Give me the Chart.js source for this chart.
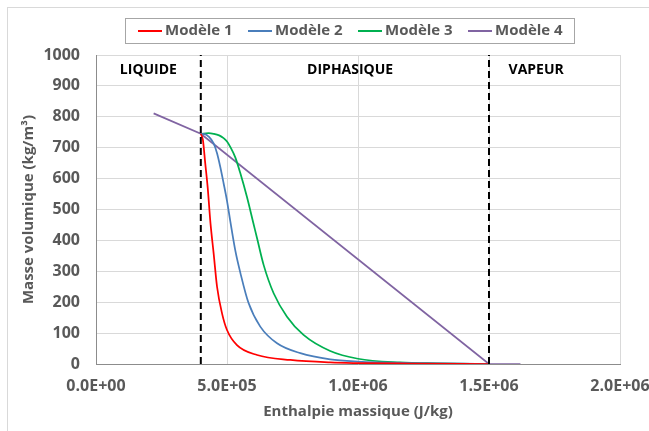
<!DOCTYPE html>
<html>
<head>
<meta charset="utf-8">
<script src="https://cdn.jsdelivr.net/npm/chart.js@4/dist/chart.umd.min.js"></script>
<style>
  html, body { margin: 0; padding: 0; background: #fff; }
  #wrap { width: 649px; height: 431px; position: relative; }
</style>
</head>
<body>
<div id="wrap"><canvas id="rhoChart"></canvas></div>
<script>
// Modèle 1 (rouge)
const m1X = [4.0e5, 4.08e5, 4.17e5, 4.26e5, 4.37e5, 4.49e5, 4.62e5, 4.81e5, 5.0e5, 5.38e5, 6.15e5, 7.42e5, 8.94e5, 1.0e6, 1.2e6, 1.5e6];
const m1Y = [745, 725, 649, 574, 455, 358, 250, 164, 110, 61, 29, 13, 5, 3, 1.5, 0];

// Modèle 2 (bleu)
const m2X = [4.0e5, 4.15e5, 4.3e5, 4.49e5, 4.62e5, 4.74e5, 4.87e5, 5.0e5, 5.13e5, 5.32e5, 5.51e5, 5.82e5, 6.27e5, 6.91e5, 7.8e5, 8.94e5, 1.0e6, 1.2e6, 1.5e6];
const m2Y = [745, 744, 736, 714, 682, 639, 585, 528, 460, 366, 295, 198, 121, 67, 35, 15, 8, 3, 0];

// Modèle 3 (vert)
const m3X = [4.0e5, 4.3e5, 4.49e5, 4.7e5, 4.87e5, 5.0e5, 5.13e5, 5.32e5, 5.51e5, 5.76e5, 6.0e5, 6.15e5, 6.4e5, 6.78e5, 7.29e5, 7.92e5, 8.94e5, 1.0e6, 1.16e6, 1.3e6, 1.5e6];
const m3Y = [745, 747, 745, 740, 731, 720, 702, 668, 617, 541, 458, 406, 320, 229, 153, 94, 42, 17, 5, 2, 0];

// Modèle 4 (violet)
const m4X = [2.2e5, 4.0e5, 1.5e6, 1.62e6];
const m4Y = [811, 745, 0, 0];

// limites de phase et zones
const phaseLimits = [4.0e5, 1.5e6];
const zoneNames = ['LIQUIDE', 'DIPHASIQUE', 'VAPEUR'];
const zoneX = [2.0e5, 9.7e5, 1.68e6];
const zoneY = 950;

const xTicks = [0, 5e5, 1e6, 1.5e6, 2e6];

function pts(xs, ys) {
  return xs.map((x, i) => ({ x: x, y: ys[i] }));
}

// format Excel 0.0E+00
function sciLabel(v) {
  if (v === 0) return '0.0E+00';
  const e = Math.floor(Math.log10(Math.abs(v)));
  const m = v / Math.pow(10, e);
  return m.toFixed(1) + 'E+' + String(e).padStart(2, '0');
}

Chart.defaults.font.family = "'Open Sans', 'DejaVu Sans', sans-serif";
Chart.defaults.font.weight = 'bold';
Chart.defaults.color = '#595959';

const datasets = [
  { label: 'Modèle 1', data: pts(m1X, m1Y), borderColor: '#ff0000', order: 1 },
  { label: 'Modèle 2', data: pts(m2X, m2Y), borderColor: '#4a7ebb', order: 2 },
  { label: 'Modèle 3', data: pts(m3X, m3Y), borderColor: '#00b050', order: 3 },
  { label: 'Modèle 4', data: pts(m4X, m4Y), borderColor: '#8064a2', order: 4, tension: 0, cubicInterpolationMode: 'default' }
].map(d => Object.assign({
  borderWidth: 1.75, pointRadius: 0, fill: false, showLine: true,
  cubicInterpolationMode: 'monotone'
}, d));

phaseLimits.forEach(h => {
  datasets.push({
    label: '', data: [{ x: h, y: 0 }, { x: h, y: 1000 }],
    borderColor: '#000', borderWidth: 2, borderDash: [7, 4],
    pointRadius: 0, showLine: true, order: 0, isLimit: true
  });
});

// légende encadrée façon Excel
const boxLegend = {
  id: 'boxLegend',
  afterDraw(chart) {
    const ctx = chart.ctx;
    ctx.save();
    ctx.strokeStyle = '#a6a6a6';
    ctx.lineWidth = 1;
    ctx.strokeRect(125.5, 18.5, 449, 25);
    ctx.font = "bold 15px 'Open Sans', sans-serif";
    ctx.textBaseline = 'middle';
    ctx.fillStyle = '#595959';
    let x = 138;
    chart.data.datasets.filter(d => !d.isLimit).forEach(d => {
      ctx.strokeStyle = d.borderColor;
      ctx.lineWidth = 2;
      ctx.beginPath();
      ctx.moveTo(x, 31);
      ctx.lineTo(x + 24, 31);
      ctx.stroke();
      ctx.fillText(d.label, x + 27, 31);
      x += 110;
    });
    ctx.restore();
  }
};

const zoneText = {
  id: 'zoneText',
  afterDatasetsDraw(chart) {
    const ctx = chart.ctx;
    const sx = chart.scales.x, sy = chart.scales.y;
    ctx.save();
    ctx.font = "bold 14px 'Open Sans', sans-serif";
    ctx.fillStyle = '#000';
    ctx.textAlign = 'center';
    ctx.textBaseline = 'middle';
    zoneNames.forEach((t, i) => ctx.fillText(t, sx.getPixelForValue(zoneX[i]), sy.getPixelForValue(zoneY)));
    ctx.restore();
  }
};

const frame = {
  id: 'frame',
  beforeDraw(chart) {
    const ctx = chart.ctx;
    ctx.save();
    ctx.fillStyle = '#fff';
    ctx.fillRect(0, 0, chart.width, chart.height);
    ctx.strokeStyle = '#d9d9d9';
    ctx.lineWidth = 1;
    ctx.strokeRect(7.5, 7.5, chart.width + 10, chart.height + 10);
    ctx.restore();
  }
};

new Chart(document.getElementById('rhoChart'), {
  type: 'scatter',
  data: { datasets: datasets },
  plugins: [frame, zoneText, boxLegend],
  options: {
    responsive: true,
    maintainAspectRatio: false,
    animation: false,
    layout: { padding: { left: 0, top: 55, right: 29, bottom: 0 } },
    plugins: { legend: { display: false }, tooltip: { enabled: false } },
    scales: {
      x: {
        type: 'linear', min: 0, max: 2e6,
        afterFit: s => { s.height = 67; s.paddingLeft = 0; s.paddingRight = 0; },
        afterBuildTicks: s => { s.ticks = xTicks.map(v => ({ value: v })); },
        ticks: { font: { size: 16 }, padding: 13, maxRotation: 0, callback: v => sciLabel(v) },
        grid: { color: '#d9d9d9', drawTicks: false },
        border: { color: '#8c8c8c' },
        title: { display: true, text: 'Enthalpie massique (J/kg)', font: { size: 15 }, padding: { top: 0, bottom: 10 } }
      },
      y: {
        min: 0, max: 1000,
        afterFit: s => { s.width = 96; s.paddingTop = 0; s.paddingBottom = 0; },
        ticks: { stepSize: 100, font: { size: 16 }, padding: 16, callback: v => String(v) },
        grid: { color: '#d9d9d9', drawTicks: false },
        border: { color: '#8c8c8c' },
        title: { display: true, text: 'Masse volumique (kg/m³)', font: { size: 15 }, padding: { top: 20, bottom: 0 } }
      }
    }
  }
});
</script>
</body>
</html>
